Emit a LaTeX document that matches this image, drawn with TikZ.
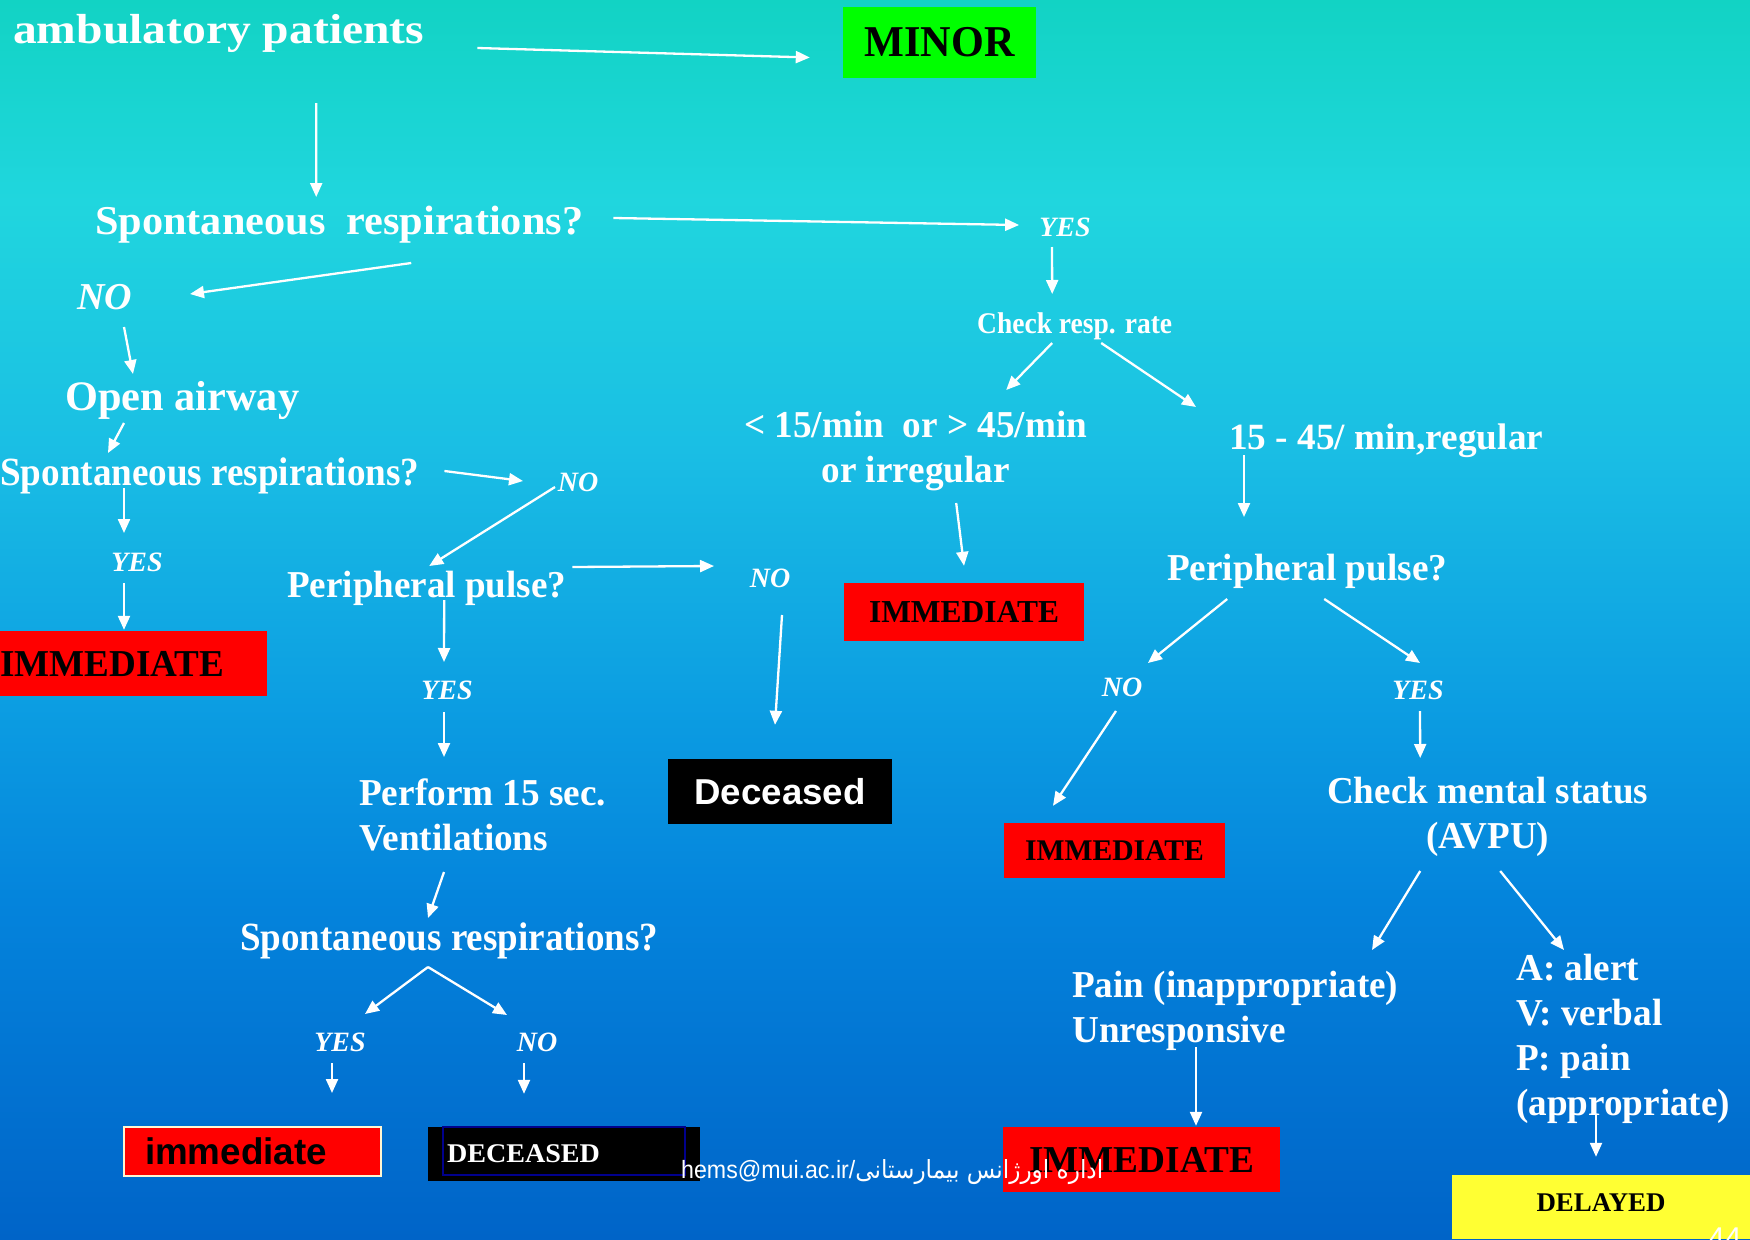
\documentclass[tikz,border=0pt]{standalone}
\usepackage{fontspec}
\setmainfont{Liberation Serif}
\setsansfont{Liberation Sans}
\newfontfamily\arabicfont[Script=Arabic]{DejaVu Sans}
\TeXXeTstate=1
\usepackage{graphicx}
\usetikzlibrary{arrows.meta}
\definecolor{bg0}{RGB}{18,211,196}
\definecolor{bg1}{RGB}{32,214,222}
\definecolor{bg2}{RGB}{26,190,228}
\definecolor{bg3}{RGB}{12,158,226}
\definecolor{bg4}{RGB}{4,132,220}
\definecolor{bg5}{RGB}{0,100,200}
\definecolor{minorgreen}{RGB}{0,255,0}
\definecolor{immred}{RGB}{255,0,0}
\definecolor{delayyellow}{RGB}{255,255,51}
\definecolor{creamedge}{RGB}{255,246,210}
\definecolor{navyedge}{RGB}{0,0,140}
\tikzstyle{arrow} = [-{Triangle[length=14pt,width=12pt]}, white, line width=2.3pt]
\newcommand{\pts}[2]{\fontsize{#1pt}{#2pt}\selectfont}
\newcommand{\fitw}[2]{\resizebox{#1pt}{\height}{#2}}

\begin{document}
\begin{tikzpicture}[x=1pt, y=-1pt,
    word/.style={inner sep=0pt, text=white, font=\pts{#1}{45}\bfseries},
    word/.default=38,
    reply/.style={inner sep=0pt, text=white, font=\pts{#1}{#1}\bfseries\itshape},
    reply/.default=28,
    card/.style={inner sep=0pt, text=black, font=\pts{#1}{#1}\bfseries}]
  \useasboundingbox (0,0) rectangle (1750,1239);
  \clip (0,0) rectangle (1750,1239);
  % background
  \shade[top color=bg0, bottom color=bg1] (0,0) rectangle (1750,201);
  \shade[top color=bg1, bottom color=bg2] (0,200) rectangle (1750,451);
  \shade[top color=bg2, bottom color=bg3] (0,450) rectangle (1750,701);
  \shade[top color=bg3, bottom color=bg4] (0,700) rectangle (1750,901);
  \shade[top color=bg4, bottom color=bg5] (0,900) rectangle (1750,1239);

  % top row
  \node[word=42, anchor=base west] (amb) at (13,44) {\fitw{411}{ambulatory patients}};
  \node[card=44, fill=minorgreen, minimum width=193pt, minimum height=71pt] (minor) at (939.5,42.5) {\fitw{150}{MINOR}};
  \node[word=41, anchor=base west] (sr1) at (95,234) {\fitw{488}{Spontaneous\ \ respirations?}};
  \node[reply] (yes1) at (1065,227) {YES};

  % right branch
  \node[word=30, anchor=base west] (crr) at (977,333) {\fitw{195}{Check resp. rate}};
  \node[word=38, anchor=base west] (rlow) at (744,437) {\fitw{343}{\begin{tabular}[t]{@{}c@{}}< 15/min\ \ or > 45/min\\or irregular\end{tabular}}};
  \node[word=37, anchor=base west] (rok) at (1229,449) {\fitw{314}{15 - 45/ min,regular}};
  \node[card=32, fill=immred, minimum width=240pt, minimum height=58pt] (imm1) at (964,612) {\fitw{190}{IMMEDIATE}};
  \node[word=38, anchor=base west] (pp2) at (1167,580) {\fitw{280}{Peripheral pulse?}};
  \node[reply] (no3) at (1122,687) {NO};
  \node[reply] (yes3) at (1418,690) {YES};
  \node[card=30, fill=immred, minimum width=221pt, minimum height=55pt] (imm3) at (1114.5,850.5) {\fitw{179}{IMMEDIATE}};
  \node[word=38, anchor=base west] (cms) at (1327,803) {\fitw{321}{\begin{tabular}[t]{@{}c@{}}Check mental status\\(AVPU)\end{tabular}}};
  \node[word=38, anchor=base west] (pain) at (1072,997) {\fitw{326}{\begin{tabular}[t]{@{}l@{}}Pain (inappropriate)\\Unresponsive\end{tabular}}};
  \node[word=38, anchor=base west] (avpu) at (1516,980) {\fitw{214}{\begin{tabular}[t]{@{}l@{}}A: alert\\V: verbal\\P: pain\\(appropriate)\end{tabular}}};
  \node[card=38, fill=immred, minimum width=277pt, minimum height=65pt] (imm4) at (1141.5,1159.5) {\fitw{225}{IMMEDIATE}};
  \node[card=27, fill=delayyellow, minimum width=298pt, minimum height=64pt, text depth=9pt] (delayed) at (1601,1207) {\fitw{129}{DELAYED}};

  % left branch
  \node[reply=38] (no1) at (105,297) {NO};
  \node[word=42, anchor=base west] (oa) at (65,410) {\fitw{234}{Open airway}};
  \node[word=40, anchor=base west] (sr2) at (0,485) {\fitw{419}{Spontaneous respirations?}};
  \node[reply] (no2) at (578,482) {NO};
  \node[reply] (yes2) at (137,562) {YES};
  \node[card=38, fill=immred, text width=267pt, align=left, minimum height=65pt] (imm2) at (133.5,663.5) {\fitw{224}{IMMEDIATE}};
  \node[word=38, anchor=base west] (pp1) at (287,597) {\fitw{279}{Peripheral pulse?}};
  \node[reply] (no4) at (770,578) {NO};
  \node[card=36, font=\pts{36}{36}\sffamily\bfseries, text=white, fill=black, minimum width=224pt, minimum height=65pt] (dec1) at (780,791.5) {\fitw{171}{Deceased}};
  \node[reply] (yes4) at (447,690) {YES};
  \node[word=38, anchor=base west] (perf) at (359,805) {\fitw{247}{\begin{tabular}[t]{@{}l@{}}Perform 15 sec.\\Ventilations\end{tabular}}};
  \node[word=40, anchor=base west] (sr3) at (240,950) {\fitw{418}{Spontaneous respirations?}};
  \node[reply] (yes5) at (340,1042) {YES};
  \node[reply] (no5) at (537,1042) {NO};
  \node[card=37, font=\pts{37}{37}\sffamily\bfseries, fill=immred, draw=creamedge, line width=2pt, text width=215pt, inner xsep=21pt, align=left, minimum height=49pt] (imm5) at (252.5,1151.5) {\fitw{182}{immediate}};
  \node[card=27, text=white, fill=black, text width=234pt, inner xsep=19pt, align=left, minimum height=54pt] (dec2) at (564,1154) {\fitw{153}{DECEASED}};
  \draw[navyedge, line width=1.5pt] ([shift={(15,0)}]dec2.north west) rectangle ([shift={(-15,-6)}]dec2.south east);

  % footer
  \node[inner sep=0pt, text=white, font=\sffamily\pts{25}{25}, anchor=base west] (mail) at (681,1178) {\fitw{422}{hems@mui.ac.ir/{\arabicfont\beginR اداره اورژانس بیمارستانی\endR}}};
  \node[inner sep=0pt, text=white, font=\sffamily\pts{30}{30}, anchor=base west] (page) at (1708,1248) {44};

  % connectors, top and right
  \draw[arrow] ([shift={(53,4)}]amb.base east) -- ([shift={(-33,15)}]minor.west);
  \draw[arrow] ([shift={(97.5,59)}]amb.base) -- ([shift={(-23,-37)}]sr1.base);
  \draw[arrow] ([shift={(30,-16)}]sr1.base east) -- ([shift={(-20,-2)}]yes1.west);
  \draw[arrow] ([shift={(-13,20)}]yes1.center) -- ([shift={(-22.5,-39)}]crr.base);
  \draw[arrow] ([shift={(-22.5,10)}]crr.base) -- ([shift={(90.5,-47)}]rlow.base);
  \draw[arrow] ([shift={(26.5,10)}]crr.base) -- ([shift={(-33,-42)}]rok.base west);
  \draw[arrow] ([shift={(40.5,66)}]rlow.base) -- ([shift={(0,-17)}]imm1.north);
  \draw[arrow] ([shift={(15,6)}]rok.base west) -- ([shift={(77,-63)}]pp2.base west);
  \draw[arrow] ([shift={(-80,19)}]pp2.base) -- ([shift={(26,-24)}]no3.center);
  \draw[arrow] ([shift={(17,19)}]pp2.base) -- ([shift={(2,-27)}]yes3.center);
  \draw[arrow] ([shift={(-6,24)}]no3.center) -- ([shift={(-61.5,-17)}]imm3.north);
  \draw[arrow] ([shift={(2,21)}]yes3.center) -- ([shift={(-67.5,-45)}]cms.base);
  \draw[arrow] ([shift={(-67.5,68)}]cms.base) -- ([shift={(300,-47)}]pain.base west);
  \draw[arrow] ([shift={(12.5,68)}]cms.base) -- ([shift={(48,-30)}]avpu.base west);
  \draw[arrow] ([shift={(124,50)}]pain.base west) -- ([shift={(54.5,-1)}]imm4.north);
  \draw[arrow] ([shift={(80,135)}]avpu.base west) -- ([shift={(-5,-18)}]delayed.north);

  % connectors, left
  \draw[arrow] ([shift={(72,29)}]sr1.base) -- ([shift={(85,-3)}]no1.center);
  \draw[arrow] ([shift={(19,30)}]no1.center) -- ([shift={(68,-36)}]oa.base west);
  \draw[arrow] ([shift={(59,13)}]oa.base west) -- ([shift={(108,-32)}]sr2.base west);
  \draw[arrow] ([shift={(25,-14)}]sr2.base east) -- ([shift={(-55,-1)}]no2.center);
  \draw[arrow] ([shift={(-23,5)}]no2.center) -- ([shift={(2.5,-31)}]pp1.base);
  \draw[arrow] ([shift={(124,3)}]sr2.base west) -- ([shift={(-13,-29)}]yes2.center);
  \draw[arrow] ([shift={(-13,21)}]yes2.center) -- ([shift={(-9.5,-1)}]imm2.north);
  \draw[arrow] ([shift={(6,-30)}]pp1.base east) -- ([shift={(-56,-12)}]no4.center);
  \draw[arrow] ([shift={(12,37)}]no4.center) -- ([shift={(-5,-34)}]dec1.north);
  \draw[arrow] ([shift={(17.5,3)}]pp1.base) -- ([shift={(-3,-28)}]yes4.center);
  \draw[arrow] ([shift={(-3,22)}]yes4.center) -- ([shift={(85,-48)}]perf.base west);
  \draw[arrow] ([shift={(85,67)}]perf.base west) -- ([shift={(188,-32)}]sr3.base west);
  \draw[arrow] ([shift={(188,17)}]sr3.base west) -- ([shift={(25,-28)}]yes5.center);
  \draw[arrow] ([shift={(188,17)}]sr3.base west) -- ([shift={(-30,-27)}]no5.center);
  \draw[arrow] ([shift={(-8,21)}]yes5.center) -- ([shift={(79.5,-33)}]imm5.north);
  \draw[arrow] ([shift={(-13,21)}]no5.center) -- ([shift={(-40,-33)}]dec2.north);
\end{tikzpicture}
\end{document}
